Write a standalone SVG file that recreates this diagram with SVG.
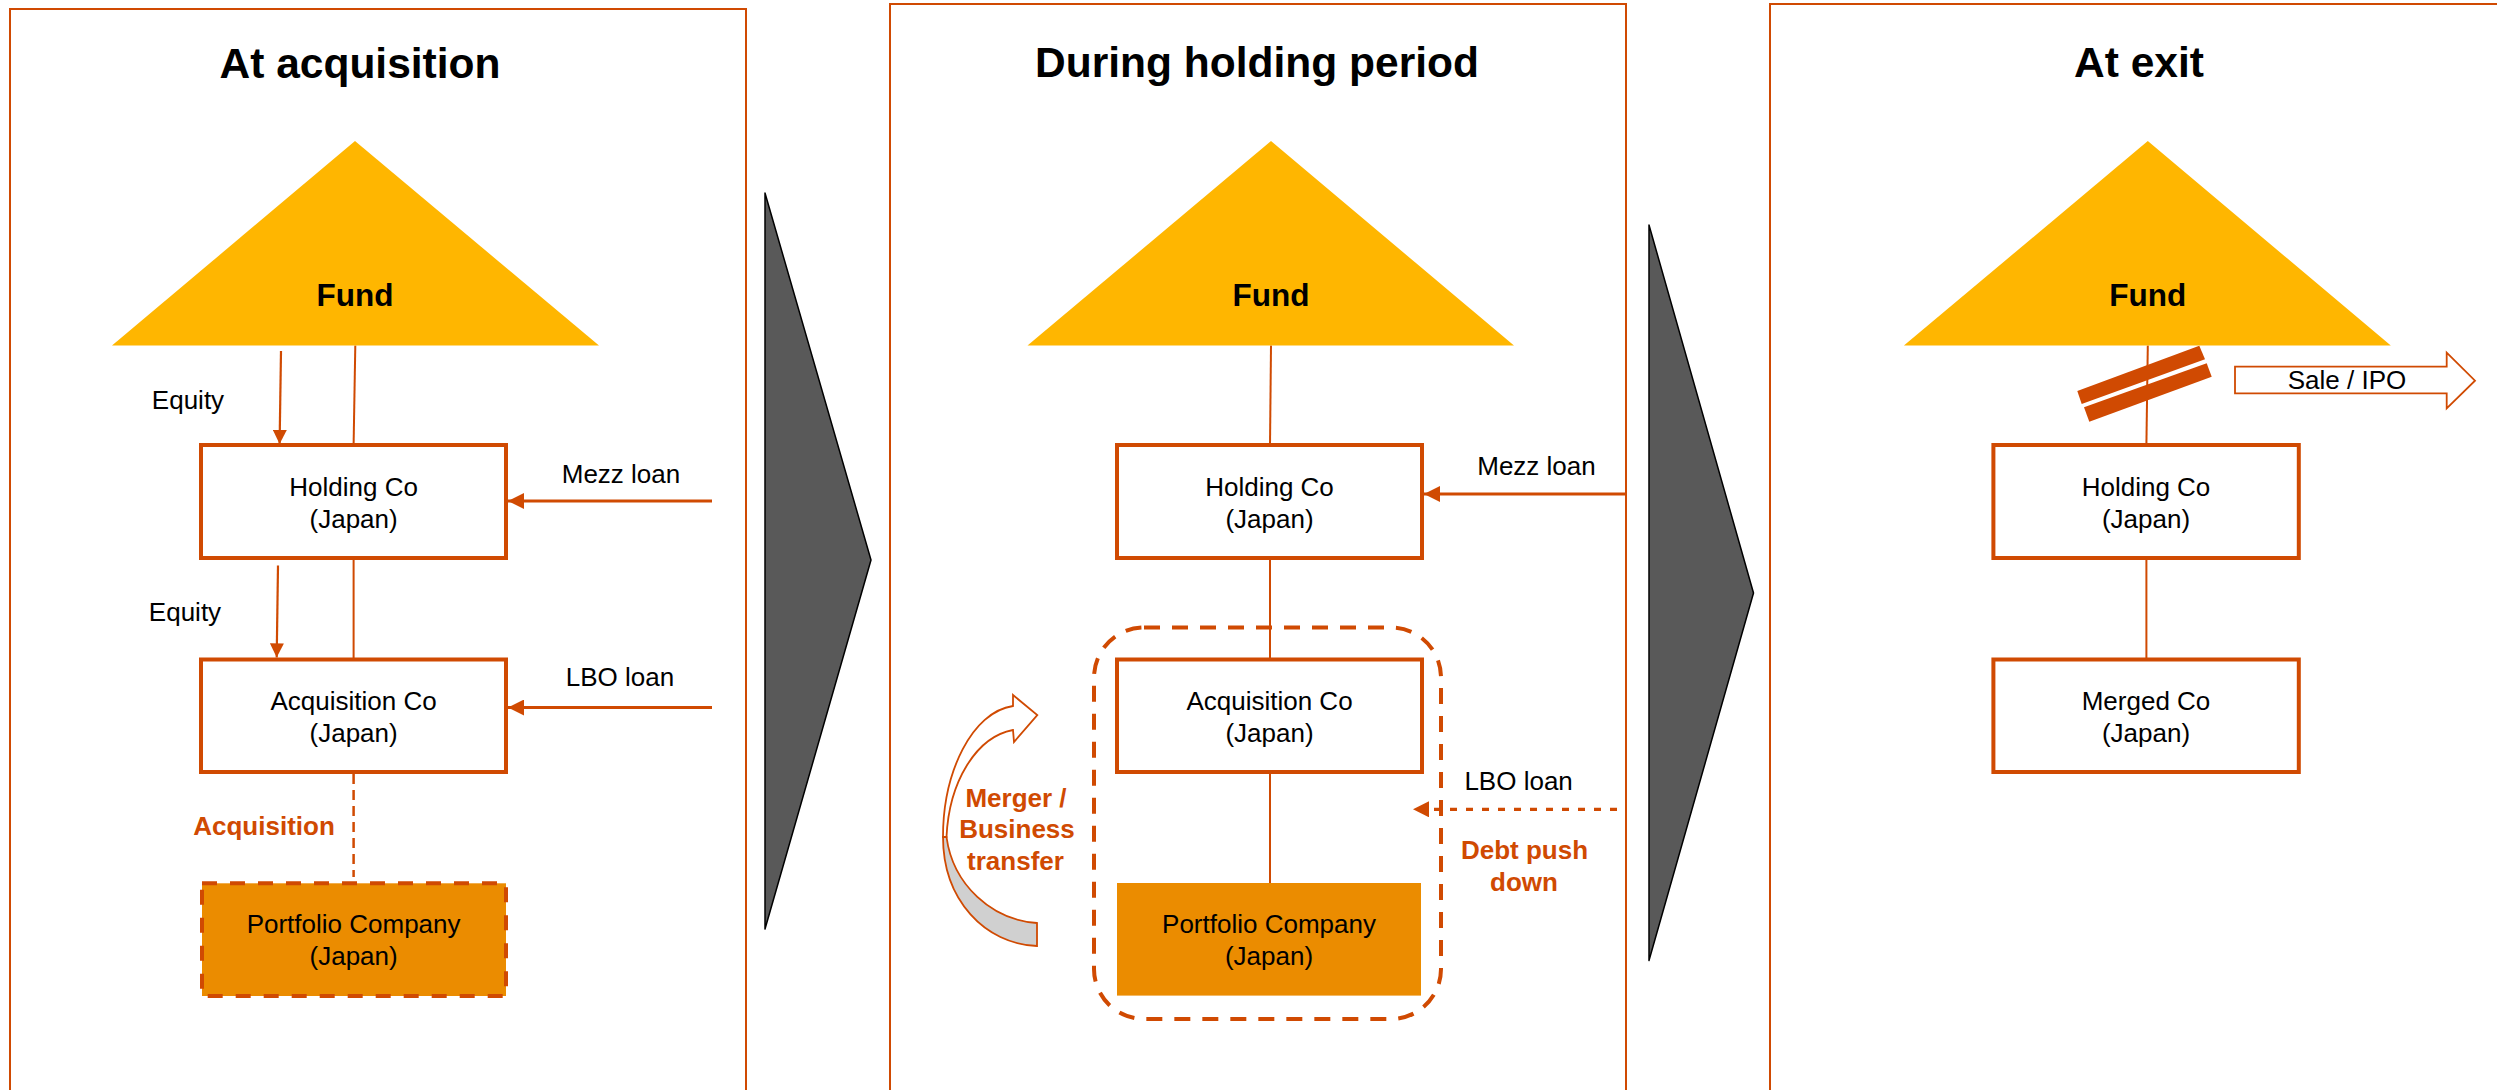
<svg xmlns="http://www.w3.org/2000/svg" width="2497" height="1090" viewBox="0 0 2497 1090">
  <style>
    .frame { fill: none; stroke: #D04A02; stroke-width: 2; }
    .chevron { fill: #595959; stroke: #000000; stroke-width: 1.5; stroke-linejoin: round; }
    .fund { fill: #FFB600; }
    .box { fill: #FFFFFF; stroke: #D04A02; stroke-width: 4; }
    .pbox { fill: #EB8C00; }
    .pbox-dash { fill: #EB8C00; stroke: #D04A02; stroke-width: 4; stroke-dasharray: 15 13; }
    .title { font-family: "Liberation Sans", Arial, sans-serif; font-size: 42.5px; font-weight: bold; fill: #000000; text-anchor: middle; }
    .fundtxt { font-family: "Liberation Sans", Arial, sans-serif; font-size: 31.5px; font-weight: bold; fill: #000000; text-anchor: middle; }
    .lbl { font-family: "Liberation Sans", Arial, sans-serif; font-size: 26px; fill: #000000; text-anchor: middle; }
    .olbl { font-family: "Liberation Sans", Arial, sans-serif; font-size: 26px; font-weight: bold; fill: #D04A02; text-anchor: middle; }
    .link { fill: none; stroke: #D04A02; stroke-width: 2; }
    .flow { fill: none; stroke: #D04A02; stroke-width: 2.2; }
    .loan { fill: none; stroke: #D04A02; stroke-width: 3; }
    .dashlink { fill: none; stroke: #D04A02; stroke-width: 2.5; stroke-dasharray: 10 6; }
    .dashloan { fill: none; stroke: #D04A02; stroke-width: 3.3; stroke-dasharray: 7 9; }
    .group-ring { fill: none; stroke: #D04A02; stroke-width: 4; stroke-dasharray: 16 12; }
    .outline { fill: #FFFFFF; stroke: #D04A02; stroke-width: 1.8; stroke-linejoin: miter; }
    .shade { fill: #D0D0D0; stroke: #D04A02; stroke-width: 1.8; }
  </style>
  <defs>
    <marker id="ah" markerUnits="userSpaceOnUse" markerWidth="16" markerHeight="16" viewBox="0 0 16 16" refX="16" refY="8" orient="auto">
      <path d="M0,0 L16,8 L0,16 Z" fill="#D04A02"/>
    </marker>
    <marker id="ah-s" markerUnits="userSpaceOnUse" markerWidth="14" markerHeight="14" viewBox="0 0 14 14" refX="14" refY="7" orient="auto">
      <path d="M0,0 L14,7 L0,14 Z" fill="#D04A02"/>
    </marker>
  </defs>

  <rect width="2497" height="1090" fill="#FFFFFF"/>

  <!-- stage frames and step chevrons -->
  <g id="frames">
    <rect class="frame" x="10" y="9" width="736" height="1100"/>
    <rect class="frame" x="890" y="4" width="736" height="1110"/>
    <rect class="frame" x="1770" y="4" width="740" height="1110"/>
    <polygon class="chevron" points="765,193 871,560 765,929"/>
    <polygon class="chevron" points="1649,225 1753.5,593 1649,960.5"/>
  </g>

  <!-- stage titles -->
  <g id="titles">
    <text class="title" x="360" y="78">At acquisition</text>
    <text class="title" x="1257" y="77">During holding period</text>
    <text class="title" x="2139" y="77">At exit</text>
  </g>

  <!-- connectors -->
  <g id="connectors">
    <!-- stage 1 -->
    <line class="link" x1="355.3" y1="345.6" x2="353.6" y2="445"/>
    <line class="flow" x1="281" y1="351" x2="279.6" y2="444" marker-end="url(#ah-s)"/>
    <line class="link" x1="353.6" y1="558" x2="353.6" y2="659"/>
    <line class="flow" x1="278" y1="565.5" x2="276.7" y2="657.4" marker-end="url(#ah-s)"/>
    <line class="loan" x1="712" y1="501" x2="508" y2="501" marker-end="url(#ah)"/>
    <line class="loan" x1="712" y1="707.5" x2="508" y2="707.5" marker-end="url(#ah)"/>
    <line class="dashlink" x1="353.6" y1="774" x2="353.6" y2="877"/>

    <!-- stage 2 -->
    <line class="link" x1="1271" y1="345.6" x2="1270" y2="445"/>
    <line class="link" x1="1270" y1="559" x2="1270" y2="659"/>
    <line class="link" x1="1270" y1="772" x2="1270" y2="883"/>
    <line class="loan" x1="1626" y1="494" x2="1424" y2="494" marker-end="url(#ah)"/>
    <line class="dashloan" x1="1617" y1="809.3" x2="1413" y2="809.3" marker-end="url(#ah)"/>

    <!-- stage 3 -->
    <line class="link" x1="2147.8" y1="345.6" x2="2146.4" y2="445"/>
    <line class="link" x1="2146.4" y1="558" x2="2146.4" y2="659"/>
  </g>

  <!-- stage 1 nodes -->
  <g id="fund-1">
    <polygon class="fund" points="355,141 599,345.6 112,345.6"/>
    <text class="fundtxt" x="355" y="306">Fund</text>
  </g>
  <g id="holding-1">
    <rect class="box" x="201" y="445" width="305" height="113"/>
    <text class="lbl" x="353.6" y="496">Holding Co</text>
    <text class="lbl" x="353.6" y="528">(Japan)</text>
  </g>
  <g id="acquisition-1">
    <rect class="box" x="201" y="659.5" width="305" height="112.5"/>
    <text class="lbl" x="353.6" y="710">Acquisition Co</text>
    <text class="lbl" x="353.6" y="742">(Japan)</text>
  </g>
  <g id="portfolio-1">
    <rect class="pbox-dash" x="202" y="883.3" width="304" height="112.7"/>
    <text class="lbl" x="353.6" y="933">Portfolio Company</text>
    <text class="lbl" x="353.6" y="965">(Japan)</text>
  </g>
  <g id="labels-1">
    <text class="lbl" x="188" y="409">Equity</text>
    <text class="lbl" x="185" y="621">Equity</text>
    <text class="lbl" x="621" y="483">Mezz loan</text>
    <text class="lbl" x="620" y="686">LBO loan</text>
    <text class="olbl" x="264" y="835">Acquisition</text>
  </g>

  <!-- stage 2 nodes -->
  <g id="fund-2">
    <polygon class="fund" points="1271,141 1514,345.6 1027.5,345.6"/>
    <text class="fundtxt" x="1271" y="306">Fund</text>
  </g>
  <g id="holding-2">
    <rect class="box" x="1117" y="445" width="305" height="113"/>
    <text class="lbl" x="1269.5" y="496">Holding Co</text>
    <text class="lbl" x="1269.5" y="528">(Japan)</text>
  </g>
  <g id="merged-group-2">
    <rect class="group-ring" x="1094" y="627.5" width="347" height="391.5" rx="50" ry="50"/>
  </g>
  <g id="acquisition-2">
    <rect class="box" x="1117" y="659.5" width="305" height="112.5"/>
    <text class="lbl" x="1269.5" y="710">Acquisition Co</text>
    <text class="lbl" x="1269.5" y="742">(Japan)</text>
  </g>
  <g id="portfolio-2">
    <rect class="pbox" x="1117" y="883" width="304" height="112.6"/>
    <text class="lbl" x="1269" y="933">Portfolio Company</text>
    <text class="lbl" x="1269" y="965">(Japan)</text>
  </g>
  <g id="merger-arrow">
    <path class="shade" d="M943,837 C943,900 985,944 1037,946 L1037,923 C992,920 953,885 946.5,837 Z"/>
    <path class="outline" d="M943,837 C943,772 972,712 1013,706 L1013,695 L1037.3,715 L1014,742 L1013,730 C976,737 949,782 946.5,837 Z"/>
  </g>
  <g id="labels-2">
    <text class="lbl" x="1536.5" y="475">Mezz loan</text>
    <text class="lbl" x="1518.6" y="790">LBO loan</text>
    <text class="olbl" x="1016" y="806.5">Merger /</text>
    <text class="olbl" x="1017" y="838">Business</text>
    <text class="olbl" x="1015.5" y="870">transfer</text>
    <text class="olbl" x="1524.5" y="859">Debt push</text>
    <text class="olbl" x="1524" y="891">down</text>
  </g>

  <!-- stage 3 nodes -->
  <g id="fund-3">
    <polygon class="fund" points="2147.8,141 2390.8,345.6 1903.9,345.6"/>
    <text class="fundtxt" x="2147.8" y="306">Fund</text>
  </g>
  <g id="cut-mark">
    <polygon fill="#D04A02" points="2077.3,391 2199.3,345.7 2205,359.3 2081.7,404"/>
    <polygon fill="#D04A02" points="2084,407.3 2206.7,363.3 2211.7,376.7 2089.3,421.7"/>
  </g>
  <g id="sale-ipo">
    <path class="outline" d="M2235,366.7 L2446.7,366.7 L2446.7,352.7 L2475,380.7 L2446.7,408.3 L2446.7,393.3 L2235,393.3 Z"/>
    <text class="lbl" x="2347" y="389.3">Sale / IPO</text>
  </g>
  <g id="holding-3">
    <rect class="box" x="1993.4" y="445" width="305.4" height="113"/>
    <text class="lbl" x="2146" y="496">Holding Co</text>
    <text class="lbl" x="2146" y="528">(Japan)</text>
  </g>
  <g id="merged-3">
    <rect class="box" x="1993.4" y="659.5" width="305.4" height="112.5"/>
    <text class="lbl" x="2146" y="710">Merged Co</text>
    <text class="lbl" x="2146" y="742">(Japan)</text>
  </g>
</svg>
